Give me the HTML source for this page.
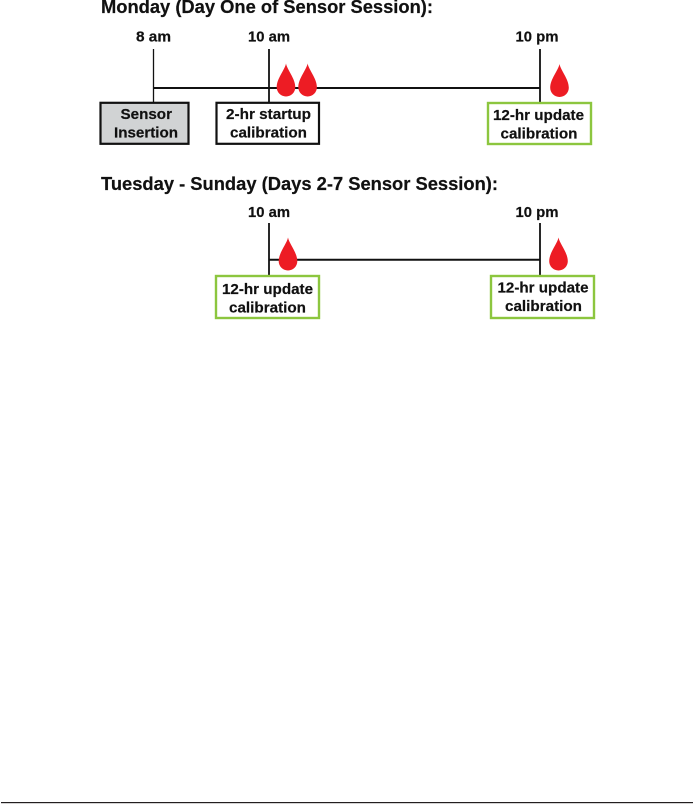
<!DOCTYPE html>
<html>
<head>
<meta charset="utf-8">
<style>
html,body{margin:0;padding:0;background:#fff;width:693px;height:804px;overflow:hidden}
svg{display:block}
text{font-family:"Liberation Sans",Arial,sans-serif;font-weight:bold;fill:#111;stroke:#111;stroke-width:.2px}
.h{font-size:18.3px}
.l{font-size:15.2px}
</style>
</head>
<body>
<svg width="693" height="804" viewBox="0 0 693 804">
<defs>
<path id="d" d="M0 0C1 6 9.3 15 9.3 23.7A9.3 9.3 0 0 1 -9.3 23.7C-9.3 15 -1 6 0 0Z" fill="#ed1c24"/>
</defs>

<text class="h" x="101" y="13" textLength="332" lengthAdjust="spacingAndGlyphs">Monday (Day One of Sensor Session):</text>
<text class="l" x="136" y="41.5" textLength="35" lengthAdjust="spacingAndGlyphs">8 am</text>
<text class="l" x="248" y="41.5" textLength="42" lengthAdjust="spacingAndGlyphs">10 am</text>
<text class="l" x="515.5" y="41.5" textLength="43" lengthAdjust="spacingAndGlyphs">10 pm</text>

<g stroke="#111" fill="none">
<path d="M153.5 49V102" stroke-width="1.3"/>
<path d="M269 49V102" stroke-width="1.8"/>
<path d="M540 49V102" stroke-width="1.8"/>
<path d="M153 88H540" stroke-width="2"/>
<path d="M269 223V275" stroke-width="1.8"/>
<path d="M540 223V275" stroke-width="1.8"/>
<path d="M269 259.7H540" stroke-width="2"/>
</g>

<use href="#d" x="286" y="63.5"/>
<use href="#d" x="307.6" y="63.5"/>
<use href="#d" x="559.5" y="64"/>
<use href="#d" x="288" y="237.5"/>
<use href="#d" x="558.5" y="237.5"/>

<rect x="100.5" y="102.8" width="88" height="41" fill="#d1d3d4" stroke="#111" stroke-width="2.2"/>
<rect x="216.5" y="102.8" width="102.5" height="41" fill="#fff" stroke="#111" stroke-width="2.2"/>
<rect x="488" y="103" width="103" height="41" fill="#fff" stroke="#8cc63f" stroke-width="2.4"/>
<rect x="216" y="276" width="103" height="42" fill="#fff" stroke="#8cc63f" stroke-width="2.4"/>
<rect x="491" y="276" width="103" height="42" fill="#fff" stroke="#8cc63f" stroke-width="2.4"/>

<text class="l" x="120.5" y="119" textLength="51.5" lengthAdjust="spacingAndGlyphs">Sensor</text>
<text class="l" x="114" y="137.5" textLength="64" lengthAdjust="spacingAndGlyphs">Insertion</text>
<text class="l" x="226" y="119" textLength="85" lengthAdjust="spacingAndGlyphs">2-hr startup</text>
<text class="l" x="230" y="137.5" textLength="77" lengthAdjust="spacingAndGlyphs">calibration</text>
<text class="l" x="493" y="120" textLength="91" lengthAdjust="spacingAndGlyphs">12-hr update</text>
<text class="l" x="500.5" y="138.5" textLength="77" lengthAdjust="spacingAndGlyphs">calibration</text>

<text class="h" x="101" y="190" textLength="397" lengthAdjust="spacingAndGlyphs">Tuesday - Sunday (Days 2-7 Sensor Session):</text>
<text class="l" x="248" y="217" textLength="42" lengthAdjust="spacingAndGlyphs">10 am</text>
<text class="l" x="515.5" y="217" textLength="43" lengthAdjust="spacingAndGlyphs">10 pm</text>

<text class="l" x="222" y="294" textLength="91" lengthAdjust="spacingAndGlyphs">12-hr update</text>
<text class="l" x="229" y="312.5" textLength="77" lengthAdjust="spacingAndGlyphs">calibration</text>
<text class="l" x="497.5" y="292.5" textLength="91" lengthAdjust="spacingAndGlyphs">12-hr update</text>
<text class="l" x="505" y="311" textLength="77" lengthAdjust="spacingAndGlyphs">calibration</text>

<rect x="1" y="802" width="692" height="1.2" fill="#231f20"/>
</svg>
</body>
</html>
